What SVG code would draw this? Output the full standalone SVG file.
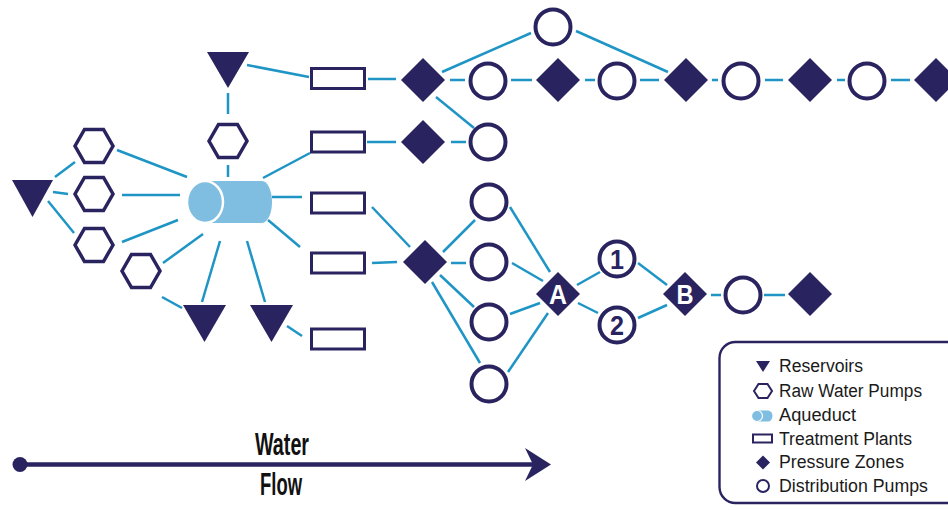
<svg xmlns="http://www.w3.org/2000/svg" width="948" height="510" viewBox="0 0 948 510">
<style>
.nv{fill:#29245f}
.pump{fill:none;stroke:#29245f;stroke-width:4}
.hex{fill:none;stroke:#29245f;stroke-width:3.5;stroke-linejoin:miter}
.plant{fill:#fff;stroke:#29245f;stroke-width:3}
.aq{fill:#7fbee0}
#connectors line{stroke:#1e95c5;stroke-width:2.5}
.lbl{font-family:"Liberation Sans",Arial,sans-serif;font-weight:bold;font-size:27px;text-anchor:middle}
.leg{font-family:"Liberation Sans",Arial,sans-serif;font-size:18px;fill:#1a1a1a}
.flow{font-family:"Liberation Sans",Arial,sans-serif;font-weight:bold;font-size:31px;fill:#111;text-anchor:middle}
</style>
<defs>
<path id="hx" d="M-19,0 L-9.5,-16.5 L9.5,-16.5 L19,0 L9.5,16.5 L-9.5,16.5 Z"/>
<path id="dm" d="M0,-22 L22,0 L0,22 L-22,0 Z"/>
</defs>
<rect width="948" height="510" fill="#fff"/>

<g id="connectors">
<line x1="55" y1="177" x2="75" y2="162"/>
<line x1="53" y1="192" x2="68" y2="194"/>
<line x1="48" y1="201" x2="74" y2="233"/>
<line x1="117" y1="150" x2="187" y2="177"/>
<line x1="122" y1="195" x2="180" y2="195"/>
<line x1="122" y1="242" x2="178" y2="220"/>
<line x1="163" y1="263" x2="203" y2="234"/>
<line x1="162" y1="297" x2="182" y2="308"/>
<line x1="220" y1="241" x2="202" y2="302"/>
<line x1="247" y1="241" x2="265" y2="302"/>
<line x1="287" y1="326" x2="302" y2="336"/>
<line x1="228" y1="165" x2="228" y2="177"/>
<line x1="228" y1="93" x2="228" y2="114"/>
<line x1="247" y1="65" x2="309" y2="77"/>
<line x1="263" y1="178" x2="310" y2="153"/>
<line x1="272" y1="197" x2="302" y2="197"/>
<line x1="268" y1="220" x2="300" y2="247"/>
<line x1="368" y1="79" x2="396" y2="79"/>
<line x1="442" y1="72" x2="531" y2="33"/>
<line x1="576" y1="31" x2="668" y2="72"/>
<line x1="450" y1="80" x2="465" y2="80"/>
<line x1="436" y1="97" x2="474" y2="128"/>
<line x1="511" y1="80" x2="532" y2="80"/>
<line x1="585" y1="80" x2="595" y2="80"/>
<line x1="640" y1="80" x2="659" y2="80"/>
<line x1="712" y1="80" x2="718" y2="80"/>
<line x1="765" y1="80" x2="783" y2="80"/>
<line x1="837" y1="80" x2="845" y2="80"/>
<line x1="891" y1="80" x2="910" y2="80"/>
<line x1="367" y1="142" x2="396" y2="142"/>
<line x1="451" y1="142" x2="466" y2="142"/>
<line x1="372" y1="207" x2="410" y2="247"/>
<line x1="372" y1="263" x2="397" y2="262"/>
<line x1="443" y1="252" x2="475" y2="220"/>
<line x1="451" y1="263" x2="466" y2="263"/>
<line x1="440" y1="275" x2="474" y2="307"/>
<line x1="432" y1="282" x2="480" y2="363"/>
<line x1="510" y1="207" x2="550" y2="272"/>
<line x1="512" y1="263" x2="543" y2="281"/>
<line x1="510" y1="314" x2="540" y2="303"/>
<line x1="508" y1="372" x2="548" y2="313"/>
<line x1="577" y1="285" x2="600" y2="272"/>
<line x1="578" y1="303" x2="598" y2="313"/>
<line x1="638" y1="263" x2="667" y2="285"/>
<line x1="638" y1="318" x2="667" y2="305"/>
<line x1="711" y1="295" x2="721" y2="295"/>
<line x1="764" y1="295" x2="785" y2="295"/>
</g>

<!-- reservoirs -->
<g id="res1"><polygon class="nv" points="12,180 53,180 32.5,217"/></g>
<g id="res2"><polygon class="nv" points="207,52 249,52 228,88"/></g>
<g id="res3"><polygon class="nv" points="183,305 226,305 204.5,342"/></g>
<g id="res4"><polygon class="nv" points="250,305 293,305 271.5,342"/></g>

<!-- raw water pumps -->
<g id="rwp1"><use href="#hx" class="hex" x="94" y="146"/></g>
<g id="rwp2"><use href="#hx" class="hex" x="94" y="194"/></g>
<g id="rwp3"><use href="#hx" class="hex" x="94" y="245"/></g>
<g id="rwp4"><use href="#hx" class="hex" x="141" y="271"/></g>
<g id="rwp5"><use href="#hx" class="hex" x="228" y="141"/></g>

<!-- aqueduct -->
<g id="aqueduct">
<path class="aq" d="M205,181 H262 A10,21 0 0 1 262,223 H205 Z"/>
<ellipse class="aq" cx="205" cy="202" rx="18" ry="21" stroke="#fff" stroke-width="2.5"/>
</g>

<!-- treatment plants -->
<g id="tp1"><rect class="plant" x="311.5" y="68.5" width="53" height="20"/></g>
<g id="tp2"><rect class="plant" x="311.5" y="132" width="53" height="20"/></g>
<g id="tp3"><rect class="plant" x="311.5" y="193" width="53" height="20"/></g>
<g id="tp4"><rect class="plant" x="311.5" y="253" width="53" height="20"/></g>
<g id="tp5"><rect class="plant" x="311.5" y="329" width="53" height="20"/></g>

<!-- pressure zones -->
<g id="pz1"><use href="#dm" class="nv" x="423" y="80"/></g>
<g id="pz2"><use href="#dm" class="nv" x="558" y="80"/></g>
<g id="pz3"><use href="#dm" class="nv" x="686" y="80"/></g>
<g id="pz4"><use href="#dm" class="nv" x="810" y="80"/></g>
<g id="pz5"><use href="#dm" class="nv" x="936" y="80"/></g>
<g id="pz6"><use href="#dm" class="nv" x="423" y="142"/></g>
<g id="pz7"><use href="#dm" class="nv" x="425" y="262"/></g>
<g id="pzA"><use href="#dm" class="nv" x="558" y="294"/><text class="lbl" x="558" y="304" fill="#fff" textLength="18" lengthAdjust="spacingAndGlyphs">A</text></g>
<g id="pzB"><use href="#dm" class="nv" x="685" y="294"/><text class="lbl" x="685" y="304" fill="#fff" textLength="17" lengthAdjust="spacingAndGlyphs">B</text></g>
<g id="pz8"><use href="#dm" class="nv" x="810" y="294"/></g>

<!-- distribution pumps -->
<g id="dp1"><circle class="pump" cx="553" cy="27" r="17.5"/></g>
<g id="dp2"><circle class="pump" cx="488" cy="81" r="17.5"/></g>
<g id="dp3"><circle class="pump" cx="617" cy="81" r="17.5"/></g>
<g id="dp4"><circle class="pump" cx="741" cy="81" r="17.5"/></g>
<g id="dp5"><circle class="pump" cx="867" cy="81" r="17.5"/></g>
<g id="dp6"><circle class="pump" cx="488" cy="142" r="17.5"/></g>
<g id="dp7"><circle class="pump" cx="489" cy="202" r="17.5"/></g>
<g id="dp8"><circle class="pump" cx="489" cy="262" r="17.5"/></g>
<g id="dp9"><circle class="pump" cx="489" cy="322" r="17.5"/></g>
<g id="dp10"><circle class="pump" cx="489" cy="384" r="17.5"/></g>
<g id="dp11"><circle class="pump" cx="617" cy="259" r="17.5"/><text class="lbl" x="617" y="268.5" fill="#29245f" textLength="14" lengthAdjust="spacingAndGlyphs">1</text></g>
<g id="dp12"><circle class="pump" cx="617" cy="325" r="17.5"/><text class="lbl" x="617" y="334.5" fill="#29245f" textLength="14" lengthAdjust="spacingAndGlyphs">2</text></g>
<g id="dp13"><circle class="pump" cx="743" cy="295" r="17.5"/></g>

<!-- water flow -->
<g id="waterflow">
<line x1="20" y1="464.5" x2="534" y2="464.5" stroke="#29245f" stroke-width="4.5"/>
<circle class="nv" cx="20" cy="464.5" r="7.5"/>
<path class="nv" d="M525,448 L551,464.5 L525,481 L533,464.5 Z"/>
<text class="flow" x="282" y="455" textLength="54" lengthAdjust="spacingAndGlyphs">Water</text>
<text class="flow" x="281" y="495" textLength="42" lengthAdjust="spacingAndGlyphs">Flow</text>
</g>

<!-- legend -->
<g id="legend">
<rect x="719.5" y="342" width="260" height="161" rx="16" fill="#fff" stroke="#29245f" stroke-width="2.4"/>
<polygon class="nv" points="756,361 770,361 763,372"/>
<path d="M754,391 L758.5,384 L767.5,384 L772,391 L767.5,398 L758.5,398 Z" fill="none" stroke="#29245f" stroke-width="2"/>
<path class="aq" d="M757,410.5 H768 A4.5,5.5 0 0 1 768,421.5 H757 Z"/>
<ellipse class="aq" cx="757" cy="416" rx="5.5" ry="5.5" stroke="#fff" stroke-width="1.2"/>
<rect x="753" y="434.5" width="19" height="8" fill="none" stroke="#29245f" stroke-width="2"/>
<path class="nv" d="M763,455.5 L770,462.5 L763,469.5 L756,462.5 Z"/>
<circle cx="763" cy="486" r="6" fill="none" stroke="#29245f" stroke-width="2"/>
<text class="leg" x="779" y="372" textLength="84" lengthAdjust="spacingAndGlyphs">Reservoirs</text>
<text class="leg" x="779" y="397" textLength="143" lengthAdjust="spacingAndGlyphs">Raw Water Pumps</text>
<text class="leg" x="779" y="421" textLength="77" lengthAdjust="spacingAndGlyphs">Aqueduct</text>
<text class="leg" x="779" y="445" textLength="133" lengthAdjust="spacingAndGlyphs">Treatment Plants</text>
<text class="leg" x="779" y="468" textLength="125" lengthAdjust="spacingAndGlyphs">Pressure Zones</text>
<text class="leg" x="779" y="492" textLength="149" lengthAdjust="spacingAndGlyphs">Distribution Pumps</text>
</g>
</svg>
